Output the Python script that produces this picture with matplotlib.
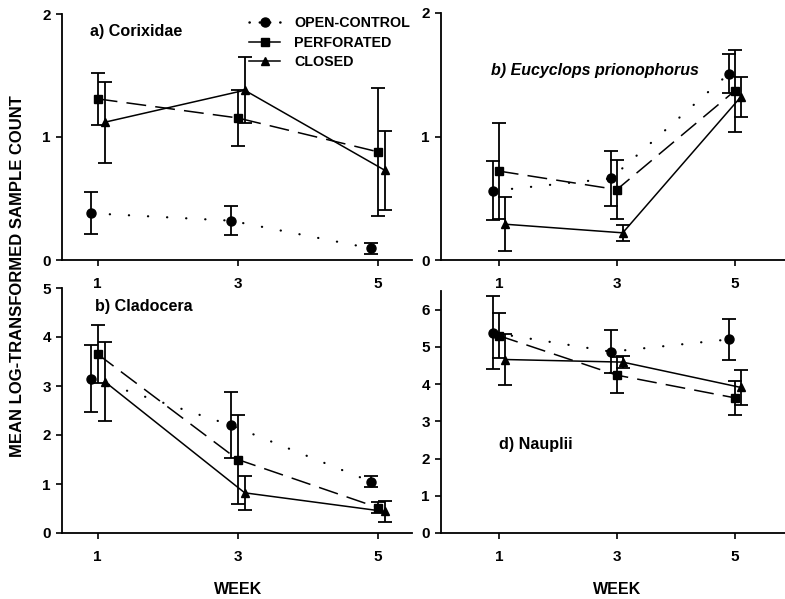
import matplotlib
matplotlib.use("Agg")
import matplotlib.pyplot as plt
from matplotlib.lines import Line2D
import numpy as np

plt.rcParams['font.family'] = ['Liberation Sans', 'DejaVu Sans']
plt.rcParams['font.weight'] = 'bold'

weeks = [1, 3, 5]
series_names = ["OPEN-CONTROL", "PERFORATED", "CLOSED"]

# Panel a) Corixidae
a_open = [0.38, 0.32, 0.095]
a_open_err = [0.17, 0.12, 0.045]
a_perf = [1.31, 1.155, 0.88]
a_perf_err = [0.21, 0.23, 0.52]
a_closed = [1.12, 1.38, 0.73]
a_closed_err = [0.33, 0.27, 0.32]

# Panel b) Eucyclops prionophorus
b_open = [0.56, 0.66, 1.51]
b_open_err = [0.24, 0.22, 0.16]
b_perf = [0.72, 0.57, 1.37]
b_perf_err = [0.39, 0.24, 0.33]
b_closed = [0.29, 0.22, 1.32]
b_closed_err = [0.22, 0.065, 0.165]

# Panel c) Cladocera
c_open = [3.15, 2.20, 1.05]
c_open_err = [0.68, 0.67, 0.12]
c_perf = [3.65, 1.50, 0.52]
c_perf_err = [0.59, 0.90, 0.12]
c_closed = [3.09, 0.82, 0.44]
c_closed_err = [0.81, 0.35, 0.21]

# Panel d) Nauplii
d_open = [5.38, 4.87, 5.20]
d_open_err = [0.98, 0.58, 0.54]
d_perf = [5.30, 4.24, 3.63]
d_perf_err = [0.60, 0.48, 0.46]
d_closed = [4.66, 4.59, 3.91]
d_closed_err = [0.69, 0.16, 0.47]

W, H = 785, 599
fig = plt.figure(figsize=(W / 100, H / 100), dpi=100)

def box(l, r, t, b):
    return [l / W, 1 - b / H, (r - l) / W, (b - t) / H]

ax_a = fig.add_axes(box(62, 412, 14, 260))
ax_b = fig.add_axes(box(441, 785, 13, 260))
ax_c = fig.add_axes(box(62, 412, 288, 533))
ax_d = fig.add_axes(box(441, 785, 291, 533))

styles = [
    dict(marker='o', ms=6.5, ls=(0, (0.1, 8.5)), lw=1.6),
    dict(marker='s', ms=5.5, ls=(0, (13, 6)), lw=1.1),
    dict(marker='^', ms=5.5, ls='-', lw=1.1),
]
offsets = [-0.1, 0.0, 0.1]

panels = [
    (ax_a, [(a_open, a_open_err), (a_perf, a_perf_err), (a_closed, a_closed_err)],
     (0.49, 5.49), (0, 2), [0, 1, 2]),
    (ax_b, [(b_open, b_open_err), (b_perf, b_perf_err), (b_closed, b_closed_err)],
     (0.02, 5.85), (0, 2), [0, 1, 2]),
    (ax_c, [(c_open, c_open_err), (c_perf, c_perf_err), (c_closed, c_closed_err)],
     (0.49, 5.49), (0, 5), [0, 1, 2, 3, 4, 5]),
    (ax_d, [(d_open, d_open_err), (d_perf, d_perf_err), (d_closed, d_closed_err)],
     (0.02, 5.85), (0, 6.5), [0, 1, 2, 3, 4, 5, 6]),
]

for ax, data, xl, yl, yt in panels:
    for i, ((vals, errs), st, off) in enumerate(zip(data, styles, offsets)):
        x = np.array(weeks) + off
        eb = ax.errorbar(x, vals, yerr=errs, color='black', ecolor='black',
                         elinewidth=1.3, capsize=5, capthick=1.3,
                         marker=st['marker'], ms=st['ms'], mfc='black', mec='black',
                         ls=st['ls'], lw=st['lw'], label=series_names[i])
        if i == 0:
            eb.lines[0].set_dash_capstyle('round')
    ax.set_xlim(*xl)
    ax.set_ylim(*yl)
    ax.set_xticks(weeks)
    ax.set_xticklabels([str(w) for w in weeks])
    ax.set_yticks(yt)
    ax.spines['top'].set_visible(False)
    ax.spines['right'].set_visible(False)
    for s in ['left', 'bottom']:
        ax.spines[s].set_linewidth(1.3)
    ax.tick_params(axis='x', direction='out', length=4, width=1.2, pad=8, labelsize=11)
    ax.tick_params(axis='y', direction='out', length=4, width=1.2, pad=4, labelsize=11)
    for lab in ax.get_xticklabels() + ax.get_yticklabels():
        lab.set_fontweight('bold')
    ax.patch.set_alpha(0)

ax_a.text(0.08, 0.93, "a) Corixidae", transform=ax_a.transAxes, fontsize=11.6,
          fontweight='bold', va='center', ha='left')
ax_b.text(0.144, 0.766, "b) Eucyclops prionophorus", transform=ax_b.transAxes,
          fontsize=11.5, fontweight='bold', style='italic', va='center', ha='left')
ax_c.text(0.094, 0.924, "b) Cladocera", transform=ax_c.transAxes, fontsize=11.6,
          fontweight='bold', va='center', ha='left')
ax_d.text(0.17, 0.364, "d) Nauplii", transform=ax_d.transAxes, fontsize=11.6,
          fontweight='bold', va='center', ha='left')

leg_handles = [
    Line2D([], [], color='black', marker='o', ms=6.5, ls=(0, (0.1, 4)), lw=1.8,
           dash_capstyle='round'),
    Line2D([], [], color='black', marker='s', ms=5.5, ls='-', lw=1.1),
    Line2D([], [], color='black', marker='^', ms=5.5, ls='-', lw=1.1),
]
fig.legend(handles=leg_handles, labels=series_names, loc='upper left',
           bbox_to_anchor=(249 / W, 1 - 16 / H), frameon=False,
           handlelength=2.2, handletextpad=0.95, labelspacing=0.4,
           borderpad=0, borderaxespad=0,
           prop=dict(weight='bold', size=10.3))

fig.text(18 / W, 1 - 276 / H, "MEAN LOG-TRANSFORMED SAMPLE COUNT", rotation=90,
         ha='center', va='center', fontsize=12, fontweight='bold')
fig.text(238 / W, 1 - 590 / H, "WEEK", ha='center', va='center', fontsize=11.5,
         fontweight='bold')
fig.text(617 / W, 1 - 590 / H, "WEEK", ha='center', va='center', fontsize=11.5,
         fontweight='bold')

fig.savefig("out.png", dpi=100)
